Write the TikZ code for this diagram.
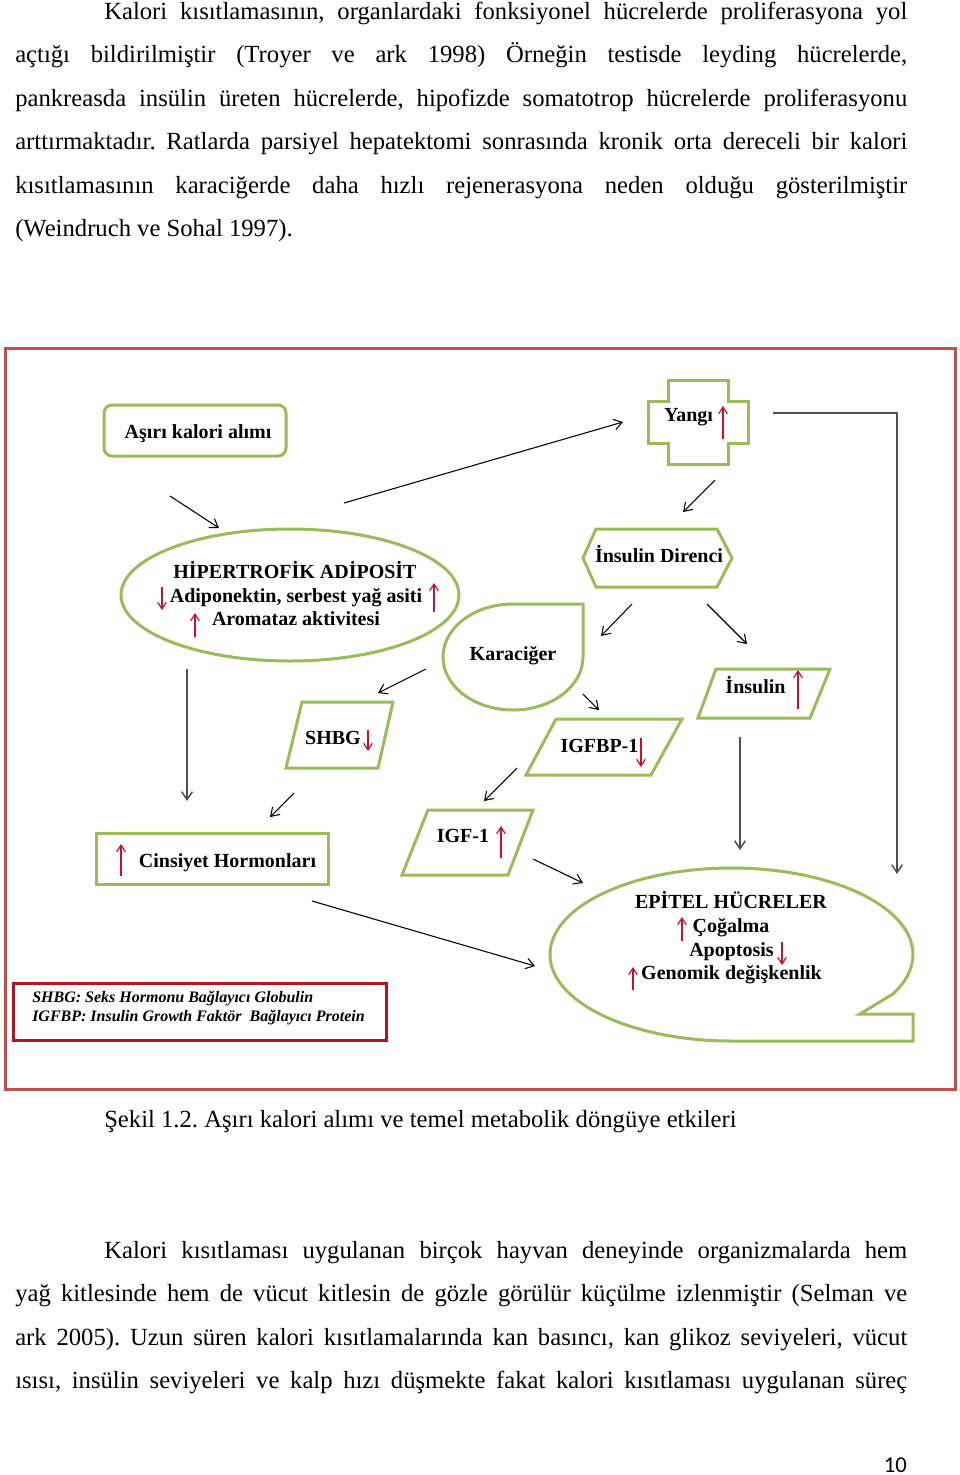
\documentclass[tikz,border=0pt]{standalone}
\usepackage{fontspec}
\setmainfont{Liberation Serif}
\newfontfamily\pagenumfont{Carlito}
\usetikzlibrary{arrows.meta}
\definecolor{ogreen}{HTML}{9BBB59}
\definecolor{ored}{HTML}{C0504D}
\definecolor{lred}{HTML}{B4141E}
\definecolor{ired}{HTML}{C8102E}
\definecolor{cgray}{HTML}{505050}
\newcommand{\jline}[2]{\makebox[#1][s]{#2}}
\frenchspacing
\begin{document}
\begin{tikzpicture}[x=0.75pt,y=-0.75pt,
  gshape/.style={draw=ogreen, line width=2.25pt, line join=miter},
  lbl/.style={font=\fontsize{15}{18}\selectfont\bfseries, inner sep=0, anchor=base},
  body/.style={font=\fontsize{18.5}{22}\selectfont, inner sep=0, anchor=base west},
  legtxt/.style={font=\fontsize{12}{14}\selectfont\bfseries\itshape, inner sep=0, anchor=base west},
  conn/.style={draw=black, line width=0.8pt, -{Straight Barb[length=6pt,width=8pt]}},
  gconn/.style={draw=cgray, line width=1.1pt, -{Straight Barb[length=6pt,width=8pt]}},
  ind/.style={draw=ired, line width=0.9pt, -{Straight Barb[length=5pt,width=6.5pt]}},
  pics/indup/.style={code={\draw[ind] (0,0) -- (0,-#1);}},
  pics/inddown/.style={code={\draw[ind] (0,0) -- (0,#1);}},
]
\useasboundingbox (0,0) rectangle (960,1475);
\fill[white] (0,0) rectangle (960,1475);

% ---------- body text, paragraph 1 ----------
\node[body] (p1a) at (104,19)    {\jline{602.25pt}{Kalori kısıtlamasının, organlardaki fonksiyonel hücrelerde proliferasyona yol}};
\node[body] (p1b) at (15,62.5)   {\jline{669pt}{açtığı bildirilmiştir (Troyer ve ark 1998) Örneğin testisde leyding hücrelerde,}};
\node[body] (p1c) at (15,106)    {\jline{669pt}{pankreasda insülin üreten hücrelerde, hipofizde somatotrop hücrelerde proliferasyonu}};
\node[body] (p1d) at (15,149.5)  {\jline{669pt}{arttırmaktadır. Ratlarda parsiyel hepatektomi sonrasında kronik orta dereceli bir kalori}};
\node[body] (p1e) at (15,193)    {\jline{669pt}{kısıtlamasının karaciğerde daha hızlı rejenerasyona neden olduğu gösterilmiştir}};
\node[body] (p1f) at (15,236.5)  {(Weindruch ve Sohal 1997).};

% ---------- frame ----------
\draw[ored, line width=2.25pt] (5,348) rectangle (955,1089);

% ---------- shapes ----------
\draw[gshape, rounded corners=6pt] (104,405) rectangle (286,456);
\draw[gshape] (668,380) -- (728,380) -- (728,401) -- (748,401) -- (748,443) -- (728,443)
  -- (728,464) -- (668,464) -- (668,443) -- (648,443) -- (648,401) -- (668,401) -- cycle;
\draw[gshape] (290,595) ellipse [x radius=169, y radius=66];
\draw[gshape] (596,529) -- (717,529) -- (732,558) -- (717,587) -- (596,587) -- (583,558) -- cycle;
\draw[gshape] (513,604) -- (583,604) -- (583,657) arc[start angle=0, end angle=270, x radius=70, y radius=53] -- cycle;
\draw[gshape] (302,702) -- (393,702) -- (378,768) -- (286,768) -- cycle;
\draw[gshape] (716,669) -- (830,669) -- (810,718) -- (698,718) -- cycle;
\draw[gshape] (556,719) -- (682,719) -- (651,775) -- (526,775) -- cycle;
\draw[gshape] (428,810) -- (533,810) -- (508,875) -- (402,875) -- cycle;
\draw[gshape] (96,833) rectangle (328,884);
\draw[gshape] (731.5,1041) arc[start angle=90, end angle=387, x radius=181.5, y radius=86.5]
  -- (860,1014) -- (913,1014) -- (913,1041) -- cycle;
\draw[lred, line width=2.25pt] (13,983) rectangle (386,1040);

% ---------- labels ----------
\node[lbl] (asiri) at (198,438) {Aşırı kalori alımı};
\node[lbl] (yangi) at (688.5,421) {Yangı};
\node[lbl] (hip1) at (295,578.5) {HİPERTROFİK ADİPOSİT};
\node[lbl] (hip2) at (296,602) {Adiponektin, serbest yağ asiti};
\node[lbl] (hip3) at (296,625) {Aromataz aktivitesi};
\node[lbl] (direnc) at (659,562) {İnsulin Direnci};
\node[lbl] (karac) at (513,660) {Karaciğer};
\node[lbl] (shbg) at (333,744) {SHBG};
\node[lbl] (insulin) at (755.5,693) {İnsulin};
\node[lbl] (igfbp) at (599.5,752) {IGFBP-1};
\node[lbl] (cins) at (227.5,867) {Cinsiyet Hormonları};
\node[lbl] (igf) at (463,842) {IGF-1};
\node[lbl] (ep1) at (731,908) {EPİTEL HÜCRELER};
\node[lbl] (ep2) at (731,932) {Çoğalma};
\node[lbl] (ep3) at (731.5,956) {Apoptosis};
\node[lbl] (ep4) at (731.5,979) {Genomik değişkenlik};
\node[legtxt] (leg1) at (32,1002.5) {SHBG: Seks Hormonu Bağlayıcı Globulin};
\node[legtxt] (leg2) at (32,1021) {IGFBP: Insulin Growth Faktör\ \ Bağlayıcı Protein};

% ---------- red indicators ----------
\pic at (723,439) {indup=33};
\pic at (162,587) {inddown=23};
\pic at (434,612) {indup=29};
\pic at (195,637) {indup=24};
\pic at (368,730) {inddown=21};
\pic at (121,876) {indup=32};
\pic at (798,709) {indup=39};
\pic at (641,738) {inddown=29};
\pic at (501,858) {indup=32};
\pic at (682,941) {indup=24};
\pic at (782,942) {inddown=23};
\pic at (633,990) {indup=23};

% ---------- connectors ----------
\coordinate (c1s) at (170,496);  \coordinate (c1e) at (219,528);
\coordinate (c2s) at (344,503);  \coordinate (c2e) at (623,422);
\coordinate (c3s) at (773,413);  \coordinate (c3m) at (897,413); \coordinate (c3e) at (897,874);
\coordinate (c4s) at (715,480);  \coordinate (c4e) at (683,512);
\coordinate (c5s) at (632,604);  \coordinate (c5e) at (601,636);
\coordinate (c6s) at (707,604);  \coordinate (c6e) at (747,644);
\coordinate (c7s) at (426,669);  \coordinate (c7e) at (378,693);
\coordinate (c8s) at (583,694);  \coordinate (c8e) at (599,710);
\coordinate (c9s) at (187,669);  \coordinate (c9e) at (187,801);
\coordinate (c10s) at (294,793); \coordinate (c10e) at (270,817);
\coordinate (c11s) at (517,768); \coordinate (c11e) at (484,801);
\coordinate (c12s) at (533,859); \coordinate (c12e) at (583,883);
\coordinate (c13s) at (312,901); \coordinate (c13e) at (535,966);
\coordinate (c14s) at (740,737); \coordinate (c14e) at (740,850);
\draw[conn] (c1s) -- (c1e);
\draw[conn] (c2s) -- (c2e);
\draw[gconn] (c3s) -- (c3m) -- (c3e);
\draw[conn] (c4s) -- (c4e);
\draw[conn] (c5s) -- (c5e);
\draw[conn] (c6s) -- (c6e);
\draw[conn] (c7s) -- (c7e);
\draw[conn] (c8s) -- (c8e);
\draw[gconn] (c9s) -- (c9e);
\draw[conn] (c10s) -- (c10e);
\draw[conn] (c11s) -- (c11e);
\draw[conn] (c12s) -- (c12e);
\draw[conn] (c13s) -- (c13e);
\draw[gconn] (c14s) -- (c14e);

% ---------- caption and paragraph 2 ----------
\node[body] (cap) at (104,1127) {Şekil 1.2. Aşırı kalori alımı ve temel metabolik döngüye etkileri};
\node[body] (p2a) at (104,1258) {\jline{602.25pt}{Kalori kısıtlaması uygulanan birçok hayvan deneyinde organizmalarda hem}};
\node[body] (p2b) at (15,1301.5) {\jline{669pt}{yağ kitlesinde hem de vücut kitlesin de gözle görülür küçülme izlenmiştir (Selman ve}};
\node[body] (p2c) at (15,1345)   {\jline{669pt}{ark 2005). Uzun süren kalori kısıtlamalarında kan basıncı, kan glikoz seviyeleri, vücut}};
\node[body] (p2d) at (15,1388.5) {\jline{669pt}{ısısı, insülin seviyeleri ve kalp hızı düşmekte fakat kalori kısıtlaması uygulanan süreç}};
\node[inner sep=0, anchor=base east, font=\pagenumfont\fontsize{17}{20}\selectfont] (pnum) at (907,1472) {10};
\end{tikzpicture}
\end{document}
